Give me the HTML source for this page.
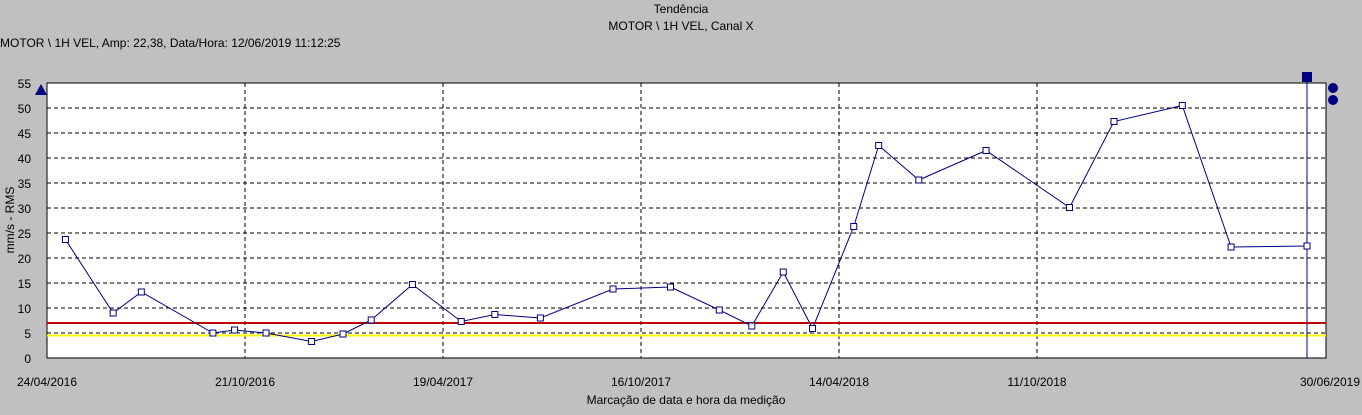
<!DOCTYPE html>
<html><head><meta charset="utf-8"><style>
body{margin:0;background:#c0c0c0;width:1362px;height:410px;overflow:hidden;font-family:"Liberation Sans",sans-serif;}
text{font-family:"Liberation Sans",sans-serif;font-size:12px;fill:#000}
</style></head><body>
<svg id="c" width="1362" height="410">
<text x="681" y="13" text-anchor="middle">Tendência</text>
<text x="681" y="30" text-anchor="middle">MOTOR \ 1H VEL, Canal X</text>
<text x="0" y="47">MOTOR \ 1H VEL, Amp: 22,38, Data/Hora: 12/06/2019 11:12:25</text>
<rect x="47" y="83" width="1279" height="275" fill="#fff" stroke="#000"/>
<g id="grid"></g><g id="ticks"></g>
<text transform="translate(14,220) rotate(-90)" text-anchor="middle">mm/s - RMS</text>
<text x="686" y="404" text-anchor="middle">Marcação de data e hora da medição</text>
<polygon points="35,95 47,95 41,84" fill="#000080"/>
<rect x="1302" y="72" width="10" height="10" fill="#000080"/>
<circle cx="1333" cy="88" r="5" fill="#000080"/>
<circle cx="1333" cy="100" r="5" fill="#000080"/>
<g id="series"></g>
</svg>
<script>
const dayOffsets=[17,61,87,153,173,202,244,273,299,337,382,413,455,522,575,620,650,679,706,744,767,804,866,943,984,1047,1092,1162];
const amplitudes=[23.7,9,13.2,5,5.6,5,3.3,4.8,7.6,14.7,7.3,8.7,8,13.8,14.2,9.6,6.4,17.2,5.9,26.3,42.5,35.6,41.5,30.1,47.3,50.5,22.2,22.4];
const yTicks=[0,5,10,15,20,25,30,35,40,45,50,55];
const xTickDays=[0,180,360,540,720,900,1162];
const xTickLabels=["24/04/2016","21/10/2016","19/04/2017","16/10/2017","14/04/2018","11/10/2018","30/06/2019"];
const alarmHigh=7, alarmLow=4.5, cursorDay=1162;
const NS="http://www.w3.org/2000/svg";
const x=d=>47+d*(1260/1162);
const y=v=>358-v*5;
function mk(tag,attrs,parent){const e=document.createElementNS(NS,tag);for(const k in attrs)e.setAttribute(k,attrs[k]);parent.appendChild(e);return e;}
const grid=document.getElementById('grid'),ticks=document.getElementById('ticks'),ser=document.getElementById('series');
yTicks.forEach(v=>{
 if(v>0&&v<55){const l=mk('line',{x1:47,x2:1326,y1:y(v),y2:y(v),stroke:'#000','stroke-dasharray':'4,3'},grid);
 
 }
 const t=mk('text',{x:31,y:y(v)+5,'text-anchor':'end'},ticks);t.textContent=v;
 
 
});
xTickDays.forEach((d,i)=>{
 const px=47+d*1.1;
 const last=i===xTickDays.length-1;
 const xp=last?x(d):(i===0?47:px);
 if(i>0&&!last){const l=mk('line',{x1:xp,x2:xp,y1:83,y2:358,stroke:'#000','stroke-dasharray':'4,3'},grid);
 
 }
 const t=mk('text',{x:last?1360:xp,y:386,'text-anchor':last?'end':'middle'},ticks);t.textContent=xTickLabels[i];
 
 
});
const r=mk('line',{x1:47,x2:1326,y1:y(alarmHigh),y2:y(alarmHigh),stroke:'#c00000','stroke-width':2},ser);


const yl=mk('line',{x1:47,x2:1326,y1:y(alarmLow),y2:y(alarmLow),stroke:'#ffff00','stroke-width':2},ser);


const cl=mk('line',{x1:x(cursorDay),x2:x(cursorDay),y1:80,y2:358,stroke:'#000080'},ser);


const pl=mk('polyline',{points:dayOffsets.map((d,i)=>x(d)+','+y(amplitudes[i])).join(' '),fill:'none',stroke:'#000080'},ser);


dayOffsets.forEach((d,i)=>{
 const p=mk('rect',{x:x(d)-3,y:y(amplitudes[i])-3,width:6,height:6,fill:'#fff',stroke:'#000080'},ser);
 
 
});
</script>
</body></html>
